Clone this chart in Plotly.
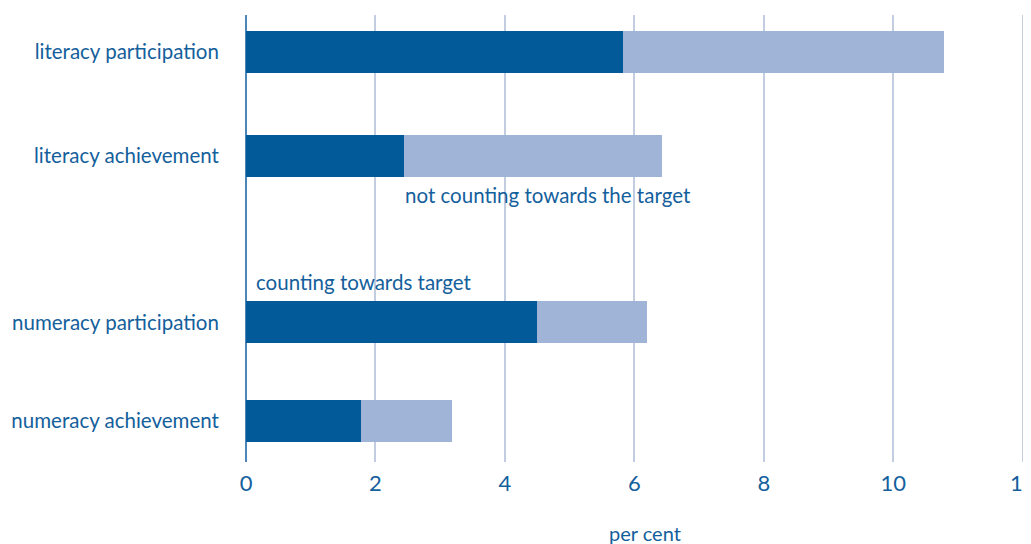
import plotly.graph_objects as go

categories = ["literacy participation", "literacy achievement", "numeracy participation", "numeracy achievement"]
counting = [5.83, 2.44, 4.50, 1.78]
not_counting = [4.95, 3.99, 1.70, 1.40]
x_ticks = [0, 2, 4, 6, 8, 10, 12]

# layout positions of the category rows (gap between literacy and numeracy groups)
y_pos = [0, 1, 2.6, 3.55]

DARK = "#035a98"
LIGHT = "#a0b4d7"
TEXT = "#14609c"
FONT = "Lato"

fig = go.Figure()
fig.add_trace(go.Bar(y=y_pos, x=counting, orientation="h", marker=dict(color=DARK, line_width=0),
                     width=0.404, name="counting towards target"))
fig.add_trace(go.Bar(y=y_pos, x=not_counting, orientation="h", marker=dict(color=LIGHT, line_width=0),
                     width=0.404, name="not counting towards the target"))

fig.update_layout(
    barmode="stack",
    width=1031, height=544,
    margin=dict(l=238, r=13, t=7, b=90),
    plot_bgcolor="white", paper_bgcolor="white",
    showlegend=False,
    font=dict(family=FONT, color=TEXT),
)
fig.update_xaxes(
    range=[0, 12.05], tickvals=x_ticks, ticktext=[str(v) for v in x_ticks],
    showgrid=True, gridcolor="#c3cde2", gridwidth=1.5,
    zeroline=True, zerolinecolor="#4d86b8", zerolinewidth=2,
    showline=False, ticks="outside", ticklen=2, tickcolor="rgba(0,0,0,0)",
    tickfont=dict(size=22, family=FONT, color=TEXT), automargin=False,
    ticklabeloverflow="allow",
)
fig.update_yaxes(
    range=[3.942, -0.356], tickvals=y_pos, ticktext=categories,
    showgrid=False, zeroline=False, showline=False,
    ticks="outside", ticklen=22, tickcolor="rgba(0,0,0,0)",
    tickfont=dict(size=20.5, family=FONT, color=TEXT), automargin=False,
)

fig.add_annotation(x=2.43, y=1.375, xref="x", yref="y", text="not counting towards the target",
                   showarrow=False, xanchor="left", yanchor="middle",
                   font=dict(size=20.5, family=FONT, color=TEXT))
fig.add_annotation(x=0.12, y=2.21, xref="x", yref="y", text="counting towards target",
                   showarrow=False, xanchor="left", yanchor="middle",
                   font=dict(size=20.5, family=FONT, color=TEXT))
fig.add_annotation(x=0.511, y=-0.158, xref="paper", yref="paper", text="per cent",
                   showarrow=False, xanchor="center", yanchor="middle",
                   font=dict(size=20, family=FONT, color=TEXT))

fig.write_html("out.html")
